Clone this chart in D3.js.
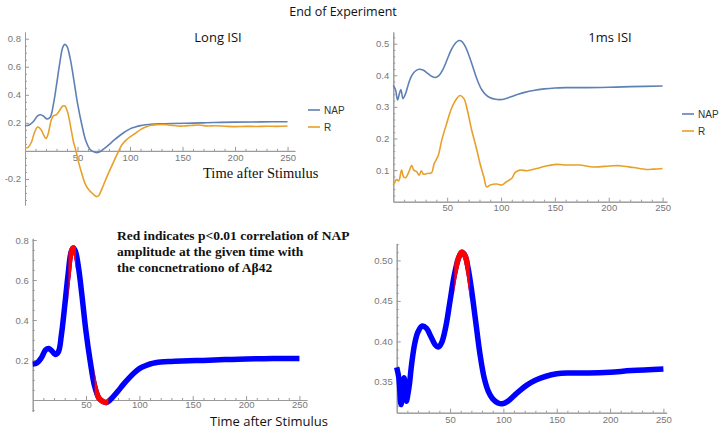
<!DOCTYPE html>
<html><head><meta charset="utf-8">
<script src="https://cdn.jsdelivr.net/npm/d3@7/dist/d3.min.js"></script>
<style>body{margin:0;background:#fff;} svg{display:block;}</style>
</head><body>
<svg id="c" width="724" height="432"></svg>
<script>
// ---------- DATA ----------
const longT   = [0,4,8,12,15,18,21,24,27,30,33,36,38,40,43,46,50,54,58,62,66,69,72,76,80,85,90,95,100,105,110,115,120,130,140,160,180,200,225,250];
const longNAP = [0.18,0.185,0.21,0.25,0.258,0.245,0.228,0.24,0.33,0.47,0.62,0.74,0.76,0.745,0.66,0.53,0.34,0.19,0.07,0.01,-0.008,-0.012,-0.003,0.02,0.045,0.078,0.108,0.135,0.157,0.17,0.18,0.186,0.19,0.193,0.195,0.198,0.202,0.205,0.207,0.208];
const longRT  = [0,3,6,9,12,15,18,20,22,25,27,30,33,36,38,40,42,44,46,48.5,51,54,57,60,63,66,68,70,73,76,80,84,88,92,96,100,105,110,115,120,125,130,135,140,145,150,155,160,165,170,175,180,190,200,210,220,230,240,250];
const longR   = [0.02,0.025,0.06,0.13,0.17,0.155,0.11,0.088,0.12,0.22,0.25,0.258,0.29,0.32,0.32,0.29,0.23,0.15,0.07,0.0,-0.08,-0.16,-0.23,-0.27,-0.295,-0.315,-0.326,-0.32,-0.275,-0.22,-0.15,-0.085,-0.02,0.04,0.075,0.1,0.125,0.152,0.17,0.183,0.186,0.188,0.186,0.182,0.178,0.177,0.18,0.182,0.185,0.18,0.178,0.179,0.176,0.173,0.175,0.174,0.176,0.175,0.178];

const shortT   = [0,2,4,5.5,7,9,10.5,12,14,17,20,24,28,32,36,39,42,46,50,54,58,61,64,67,70,74,78,82,86,90,95,99,104,110,116,122,130,140,150,160,180,200,220,250];
const shortNAP = [0.368,0.355,0.322,0.34,0.355,0.326,0.335,0.348,0.372,0.398,0.412,0.419,0.416,0.406,0.396,0.393,0.398,0.418,0.45,0.482,0.503,0.51,0.506,0.49,0.465,0.425,0.385,0.355,0.338,0.329,0.324,0.323,0.326,0.333,0.34,0.346,0.352,0.357,0.36,0.361,0.361,0.362,0.364,0.366];
const shortRT  = [0,1.5,3,5,7.7,9.5,11.5,14.5,17,19,21.7,24,26,28,31,35.6,37.8,41.8,45,49.5,54,58.8,62,65.6,68.7,72.8,76.8,80.5,84,86.7,90,96,100.6,105,110,113,117.6,124,133,142,151.7,161,173,186,201,210.5,223,235,241.5,250];
const shortR   = [0.053,0.063,0.07,0.066,0.1,0.079,0.076,0.095,0.114,0.1,0.095,0.084,0.098,0.087,0.089,0.092,0.119,0.147,0.195,0.247,0.295,0.326,0.336,0.326,0.29,0.226,0.174,0.121,0.079,0.047,0.053,0.056,0.053,0.063,0.074,0.092,0.1,0.098,0.105,0.113,0.118,0.116,0.116,0.11,0.113,0.114,0.108,0.102,0.103,0.105];

const xTicks = [50,100,150,200,250];
const yTicksLong  = [-0.2,0.2,0.4,0.6,0.8];
const yTicksShort = [0.1,0.2,0.3,0.4,0.5];
const yTicksLongSig  = [0.2,0.4,0.6,0.8];
const yTicksShortSig = [0.35,0.40,0.45,0.50];
const sigLong  = [[33.5,40.5],[58,71]];
const sigShort = [[54,68.5]];
const seriesNames = ["NAP","R"];

const title = "End of Experiment";
const note = ["Red indicates p<0.01 correlation of NAP","amplitude at the given time with","the concnetrationo of A\u03B242"];

// ---------- DRAW ----------
const svg = d3.select("#c");
const BLUE = "#5E81B5", ORANGE = "#E8A02A";
const tickFont = "Liberation Sans, Arial, sans-serif";
const fmt = p => v => d3.format(p)(v).replace("\u2212", "-");

function axes(g, x, y, yTicks, yMinorStep, yFmt, xAxisY, xLabOff) {
  const ax = g.append("g").attr("transform", `translate(0,${xAxisY})`);
  ax.call(d3.axisBottom(x).tickValues(xTicks).tickSizeInner(-4).tickSizeOuter(0).tickPadding(xLabOff));
  const minorX = d3.range(10, x.domain()[1], 10).filter(v => v % 50 !== 0);
  g.append("g").attr("transform", `translate(0,${xAxisY})`)
    .call(d3.axisBottom(x).tickValues(minorX).tickSizeInner(-2).tickSizeOuter(0).tickFormat(""));
  const ay = g.append("g").attr("transform", `translate(${x(0)},0)`);
  ay.call(d3.axisLeft(y).tickValues(yTicks).tickSizeInner(-4).tickSizeOuter(0).tickPadding(4).tickFormat(yFmt));
  const [d0, d1] = y.domain();
  const minorY = d3.range(Math.ceil(d0 / yMinorStep) * yMinorStep, d1, yMinorStep)
    .filter(v => !yTicks.some(t => Math.abs(t - v) < 1e-6) && Math.abs(v) > 1e-6);
  g.append("g").attr("transform", `translate(${x(0)},0)`)
    .call(d3.axisLeft(y).tickValues(minorY).tickSizeInner(-2).tickSizeOuter(0).tickFormat(""));
  g.selectAll(".domain").attr("stroke", "#999");
  g.selectAll(".tick line").attr("stroke", "#999");
  g.selectAll(".tick text").attr("fill", "#777").attr("font-size", "9.5px").attr("font-family", tickFont);
}

function line(x, y) {
  return d3.line().x(d => x(d[0])).y(d => y(d[1])).curve(d3.curveCatmullRom.alpha(0.5));
}
const zip = (a, b) => a.map((v, i) => [v, b[i]]);

function legend(g, lx, ly) {
  [BLUE, ORANGE].forEach((c, i) => {
    const yy = ly + i * 17;
    g.append("line").attr("x1", lx).attr("x2", lx + 12).attr("y1", yy).attr("y2", yy)
      .attr("stroke", c).attr("stroke-width", 1.6);
    g.append("text").attr("x", lx + 16).attr("y", yy + 3.5).text(seriesNames[i])
      .attr("font-family", tickFont).attr("font-size", "10px").attr("fill", "#333");
  });
}

// title
svg.append("text").attr("x", 343).attr("y", 16).attr("text-anchor", "middle")
  .attr("font-family", "Open Sans, sans-serif").attr("font-size", "12.5px").attr("fill", "#111").text(title);

// ---- Panel 1 ----
{
  const g = svg.append("g");
  const x = d3.scaleLinear().domain([0, 257]).range([25, 294.9]);
  const y = d3.scaleLinear().domain([-0.386, 0.848]).range([205, 32]);
  axes(g, x, y, yTicksLong, 0.05, fmt(".1f"), y(0), 3);
  g.append("path").attr("d", line(x, y)(zip(longT, longNAP))).attr("fill", "none").attr("stroke", BLUE).attr("stroke-width", 1.6);
  g.append("path").attr("d", line(x, y)(zip(longRT, longR))).attr("fill", "none").attr("stroke", ORANGE).attr("stroke-width", 1.6);
  legend(g, 308, 110);
  g.append("text").attr("x", 218).attr("y", 42).attr("text-anchor", "middle")
    .attr("font-family", "Open Sans, sans-serif").attr("font-size", "13px").attr("fill", "#111").text("Long ISI");
  g.append("text").attr("x", 203).attr("y", 178)
    .attr("font-family", "Liberation Serif, Times New Roman, serif").attr("font-size", "14.5px").attr("fill", "#111").text("Time after Stimulus");
}

// ---- Panel 2 ----
{
  const g = svg.append("g");
  const x = d3.scaleLinear().domain([0, 254]).range([393.3, 666.9]);
  const y = d3.scaleLinear().domain([0, 0.537]).range([201.7, 32]);
  axes(g, x, y, yTicksShort, 0.02, fmt(".1f"), y(0), 3);
  g.append("path").attr("d", line(x, y)(zip(shortT, shortNAP))).attr("fill", "none").attr("stroke", BLUE).attr("stroke-width", 1.6);
  g.append("path").attr("d", line(x, y)(zip(shortRT, shortR))).attr("fill", "none").attr("stroke", ORANGE).attr("stroke-width", 1.6);
  legend(g, 682, 114);
  g.append("text").attr("x", 610).attr("y", 42).attr("text-anchor", "middle")
    .attr("font-family", "Open Sans, sans-serif").attr("font-size", "13px").attr("fill", "#111").text("1ms ISI");
}

function sigPanel(g, x, y, T, V, sig, id) {
  const cp = g.append("clipPath").attr("id", "clip" + id);
  cp.append("rect").attr("x", x.range()[0] - 10).attr("y", y.range()[1] - 10)
    .attr("width", x.range()[1] - x.range()[0] + 20).attr("height", y.range()[0] - y.range()[1] + 10);
  const gg = g.append("g").attr("clip-path", `url(#clip${id})`);
  const d = line(x, y)(zip(T, V));
  gg.append("path").attr("d", d).attr("fill", "none").attr("stroke", "#0000FF").attr("stroke-width", 5.5).attr("stroke-linejoin", "round");
  sig.forEach((s, i) => {
    const cid = `sig${id}_${i}`;
    g.append("clipPath").attr("id", cid).append("rect")
      .attr("x", x(s[0])).attr("y", 0).attr("width", x(s[1]) - x(s[0])).attr("height", 432);
    gg.append("g").attr("clip-path", `url(#${cid})`).append("path").attr("d", d)
      .attr("fill", "none").attr("stroke", "#FF0000").attr("stroke-width", 5.5);
  });
}

// ---- Panel 3 ----
{
  const g = svg.append("g");
  const x = d3.scaleLinear().domain([0, 257]).range([32.7, 306.9]);
  const y = d3.scaleLinear().domain([-0.058, 0.808]).range([411.6, 238.4]);
  axes(g, x, y, yTicksLongSig, 0.05, fmt(".1f"), y(0), 1);
  sigPanel(g, x, y, longT, longNAP, sigLong, 3);
  g.append("text").attr("x", 210).attr("y", 426)
    .attr("font-family", "Open Sans, sans-serif").attr("font-size", "13px").attr("fill", "#111").text("Time after Stimulus");
  const t = g.append("text").attr("font-family", "Liberation Serif, Times New Roman, serif")
    .attr("font-weight", "bold").attr("font-size", "13.5px").attr("fill", "#111");
  note.forEach((s, i) => t.append("tspan").attr("x", 117).attr("y", 240 + i * 15.8).text(s));
}

// ---- Panel 4 ----
{
  const g = svg.append("g");
  const x = d3.scaleLinear().domain([0, 253]).range([396.7, 666.6]);
  const y = d3.scaleLinear().domain([0.312, 0.521]).range([412.7, 243.4]);
  axes(g, x, y, yTicksShortSig, 0.01, fmt(".2f"), y(0.312), 4);
  sigPanel(g, x, y, shortT, shortNAP, sigShort, 4);
}
</script>
</body></html>
